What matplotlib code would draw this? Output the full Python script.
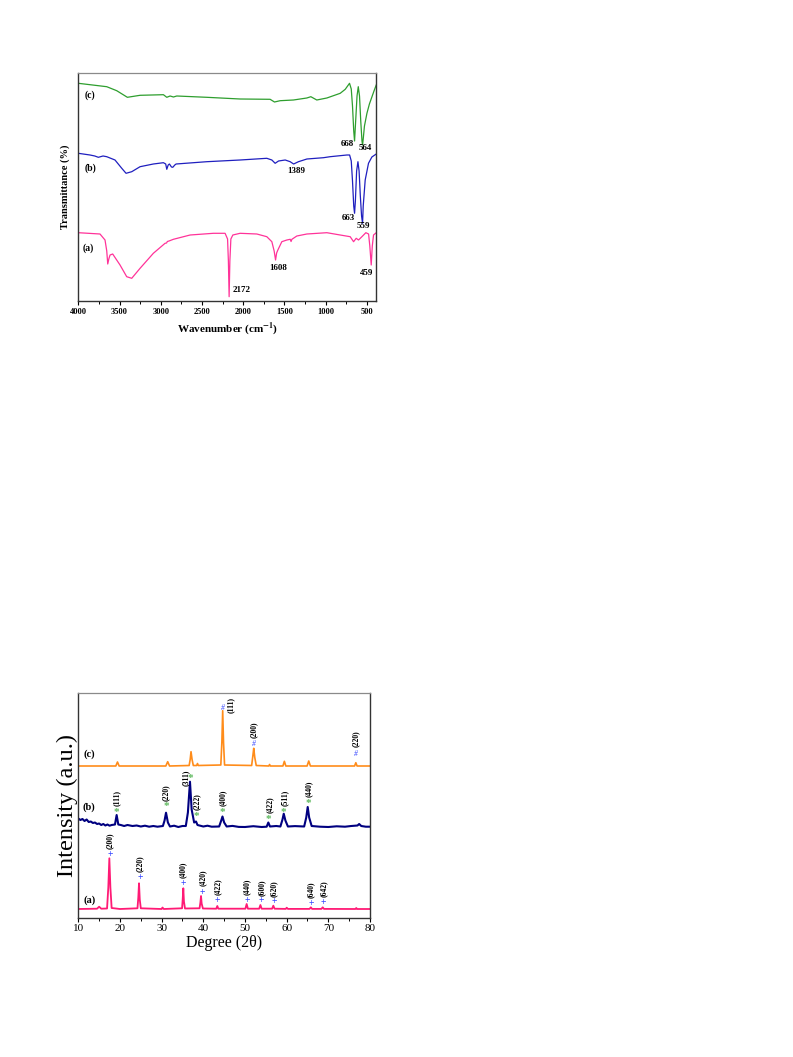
import matplotlib
matplotlib.use("Agg")
import matplotlib.pyplot as plt
from matplotlib.ticker import MultipleLocator

plt.rcParams['font.family'] = ['Liberation Serif', 'DejaVu Serif']
plt.rcParams['mathtext.fontset'] = 'stix'

# ---------------- FTIR data (wavenumber cm-1, transmittance arb. offset) -------------
ftir_c_wn = [4000, 3655, 3534, 3405, 3251, 2968, 2927, 2887, 2846, 2806, 2442, 2038, 1674,
             1621, 1552, 1391, 1229, 1180, 1108, 986, 824, 763, 711, 690, 675, 660, 650,
             640, 620, 605, 590, 575, 560, 553, 545, 530, 500, 470, 440, 410, 387]
ftir_c_t = [217.7, 214.3, 210.3, 203.7, 205.7, 206.3, 203.7, 205, 204, 205, 203.7, 202, 201.7,
            199, 200.3, 201, 203, 204.3, 201, 203, 207.7, 211.7, 217.7, 212, 195, 170, 160,
            175, 205, 214.3, 205, 180, 160, 156, 162, 175, 187.7, 197, 204, 211, 216]

ftir_b_wn = [4000, 3858, 3800, 3757, 3700, 3655, 3555, 3473, 3421, 3352, 3251, 3090, 2968,
             2940, 2927, 2910, 2895, 2870, 2854, 2830, 2814, 2442, 2038, 1714, 1653, 1613,
             1572, 1491, 1431, 1389, 1330, 1228, 1027, 946, 743, 710, 690, 675, 660, 650,
             640, 625, 609, 595, 580, 565, 553, 545, 521, 481, 440, 387]
ftir_b_t = [147.7, 146, 145, 143.7, 145, 144.3, 141, 132.7, 127.7, 129.3, 134.3, 137, 138.3,
            137, 131.7, 136, 137, 134, 133.7, 136, 137, 139.3, 141, 142.7, 141, 137.7,
            140, 141, 139.3, 137, 139.3, 142, 143.3, 144.3, 146, 146, 140, 120, 95, 87.7,
            100, 130, 139.3, 130, 105, 85, 77.7, 95, 121, 137.7, 144, 147]

ftir_a_wn = [4000, 3737, 3676, 3655, 3643, 3630, 3615, 3583, 3494, 3413, 3352, 3251, 3090,
             2948, 2930, 2920, 2900, 2847, 2644, 2362, 2220, 2190, 2180, 2171, 2162, 2150,
             2126, 2038, 1835, 1714, 1653, 1625, 1608, 1595, 1580, 1532, 1471, 1430, 1420,
             1410, 1350, 1228, 986, 824, 703, 662, 630, 602, 561, 513, 480, 465, 448, 435,
             420, 387]
ftir_a_t = [68.3, 67, 61, 50, 37, 42, 46, 47, 36, 24.3, 22.7, 32.7, 47.7,
            57.7, 58, 59.5, 60, 61.7, 66, 67.7, 67.7, 62, 40, 4.3, 40, 62,
            66, 67.7, 67, 64.3, 59.3, 50, 41, 48, 51, 59.3, 61, 61.7, 59.5,
            61.7, 65, 67, 68.3, 66, 64.3, 59.3, 62.7, 61, 64.3, 68.3, 67, 55, 36, 55,
            66, 68.3]

ftir_series_labels = ['(c)', '(b)', '(a)']
ftir_series_label_pos = [(3858, 206), (3858, 132.7), (3879, 53.3)]
ftir_peak_texts = ['668', '564', '1389', '663', '559', '1608', '2172', '459']
ftir_peak_x = [743, 521, 1358, 723, 541, 1580, 2017, 500]
ftir_peak_y = [157, 153.3, 130, 82.7, 75.3, 33.3, 11, 27.7]
ftir_xticks = [4000, 3500, 3000, 2500, 2000, 1500, 1000, 500]

# ---------------- XRD data (2theta deg, intensity arb. offset) -------------
xrd_a_x = [10.0, 14.5, 15.0, 15.5, 16.9, 17.2, 17.45, 17.7, 18.0, 20.0, 24.2, 24.4, 24.57,
           24.75, 25.0, 30.0, 30.2, 30.5, 34.9, 35.05, 35.2, 35.35, 35.6, 39.1, 39.3, 39.45,
           39.6, 39.9, 43.1, 43.36, 43.6, 50.1, 50.4, 50.7, 53.4, 53.7, 54.0, 56.5, 56.8,
           57.1, 59.8, 60.0, 60.3, 65.5, 65.8, 66.1, 68.35, 68.65, 68.95, 76.5, 76.7, 76.9,
           80.0]
xrd_a_y = [8.5, 8.8, 10.8, 8.8, 9.0, 30, 59.2, 30, 9.5, 8.5, 9.2, 20, 34.2,
           18, 9.2, 8.5, 10, 8.5, 9.2, 18, 29.2, 16, 9, 9.2, 15, 21.5,
           14, 9, 8.8, 11.5, 8.8, 8.8, 13.5, 8.8, 8.8, 12.5, 8.8, 8.8, 11.8,
           8.8, 8.6, 9.8, 8.6, 8.6, 10.2, 8.6, 8.6, 10.2, 8.6, 8.5, 9.5, 8.5,
           8.5]

xrd_b_x = [10, 10.5, 11, 11.5, 12, 12.5, 13, 13.5, 14, 14.5, 15, 15.5, 16, 16.5, 17, 17.5,
           18, 18.8, 19.2, 19.6, 20.2, 21, 21.8, 23, 24, 25, 26, 27, 28, 29, 30.3, 30.7, 31.05,
           31.5, 32, 33, 34, 35, 35.8, 36.3, 36.8, 37.2, 37.8, 38.25, 38.6, 40, 41, 42, 43.8,
           44.3, 44.6, 45, 45.6, 47, 48.5, 50, 52, 54, 55.2, 55.6, 56, 57.5, 58.5, 59.0, 59.3,
           59.7, 60.3, 62, 64.2, 64.7, 65.05, 65.4, 66, 68, 70, 72, 74, 75.5, 77.0, 77.4, 77.9,
           79, 80]
xrd_b_y = [99, 97.5, 98.5, 96.5, 98, 95.5, 96, 94.5, 95, 93.5, 94, 92.5, 93.5, 92, 93, 91.8,
           92.5, 93, 102.5, 93, 92.5, 91.5, 92.5, 91.5, 92, 91, 91.8, 90.8, 91.5, 90.8, 91.5, 97,
           104.8, 95, 91, 91.8, 90.5, 91.5, 91.5, 105, 135.8, 108, 95, 96, 92.5, 91, 91.8, 90.8,
           91, 97, 101, 95, 91, 91.6, 90.6, 90.5, 91.3, 90.5, 90.8, 95, 91, 91.5, 91, 98, 103.8,
           97, 91, 91.4, 91, 100, 110.5, 100, 91.5, 90.8, 90.5, 91.2, 90.8, 91.5, 92, 93.5, 91.5,
           90.8, 90.8]

xrd_c_x = [10, 19.0, 19.4, 19.8, 31.0, 31.45, 31.9, 36.6, 36.85, 37.05, 37.3, 37.6, 38.4,
           38.6, 38.8, 44.2, 44.45, 44.65, 44.85, 45.1, 51.6, 51.9, 52.1, 52.35, 52.7, 55.7,
           55.9, 56.1, 59.1, 59.45, 59.8, 64.9, 65.3, 65.7, 76.3, 76.6, 76.9, 80]
xrd_c_y = [151.5, 151.5, 155.5, 151.5, 151.5, 155.8, 151.5, 152, 158, 165.8, 158, 152, 152,
           154, 152, 152.5, 175, 206.8, 175, 152.5, 152, 162, 169.2, 160, 152, 151.5,
           153, 151.5, 151.5, 156.2, 151.5, 151.5, 156.5, 151.5, 151.5, 154.8, 151.5, 151.5]

# hkl labels and their markers
xrd_a_hkl = ['(200)', '(220)', '(400)', '(420)', '(422)', '(440)', '(600)', '(620)', '(640)', '(642)']
xrd_a_mx = [17.6, 24.8, 35.2, 39.85, 43.45, 50.55, 54.0, 57.0, 65.85, 68.8]
xrd_a_my = [63.5, 39.8, 34.2, 25.5, 16.8, 17.5, 16.5, 15.8, 14.2, 15.5]
xrd_a_ly = [76.5, 53.5, 48.0, 39.5, 30.8, 31.0, 30.0, 29.0, 28.0, 29.0]

xrd_b_hkl = ['(111)', '(220)', '(311)', '(222)', '(400)', '(422)', '(511)', '(440)']
xrd_b_mx = [19.2, 31.2, 37.0, 38.4, 44.65, 55.6, 59.3, 65.2]
xrd_b_my = [105.2, 111.5, 138.5, 100.8, 105.2, 98.2, 105.2, 114.2]
xrd_b_lx = [19.2, 31.1, 35.85, 38.4, 44.6, 56.0, 59.5, 65.2]
xrd_b_ly = [119.2, 125.2, 139.8, 115.8, 119.2, 112.5, 119.2, 128.5]

xrd_c_hkl = ['(111)', '(200)', '(220)']
xrd_c_mx = [44.65, 52.15, 76.6]
xrd_c_my = [209.2, 174.0, 163.0]
xrd_c_lx = [46.55, 52.1, 76.5]
xrd_c_ly = [212.5, 188.0, 178.5]

xrd_series_labels = ['(c)', '(b)', '(a)']
xrd_series_label_pos = [(12.65, 163.5), (12.65, 110.5), (12.65, 17.5)]

W, H = 793, 1057
fig = plt.figure(figsize=(W / 100, H / 100), dpi=100)


def style_axes(ax, lw=1.0):
    for s in ['left', 'bottom', 'right']:
        ax.spines[s].set_color('#333333')
        ax.spines[s].set_linewidth(lw)
    ax.spines['top'].set_color('#8a8a8a')
    ax.spines['top'].set_linewidth(0.9)
    ax.tick_params(axis='y', left=False, labelleft=False)
    ax.tick_params(axis='x', which='major', direction='out', length=3, width=0.8, pad=2,
                   top=False)
    ax.tick_params(axis='x', which='minor', direction='out', length=2, width=0.7, top=False)


# ---------------- FTIR panel ----------------
ax1 = fig.add_axes([78.3 / W, 1 - 301 / H, (376 - 78.3) / W, (301 - 73.3) / H])
ax1.plot(ftir_c_wn, ftir_c_t, color='#2e9e2e', lw=0.9)
ax1.plot(ftir_b_wn, ftir_b_t, color='#1f1fbf', lw=0.9)
ax1.plot(ftir_a_wn, ftir_a_t, color='#ff3399', lw=0.9)
ax1.set_xlim(4000, 390)
ax1.set_ylim(0, 227.7)
ax1.set_xticks(ftir_xticks)
ax1.xaxis.set_minor_locator(MultipleLocator(250))
style_axes(ax1)
for lab in ax1.get_xticklabels():
    lab.set_fontweight('bold')
    lab.set_fontsize(6)
ax1.set_xlabel('Wavenumber (cm$\\mathbf{^{-1}}$)', fontsize=8, fontweight='bold', labelpad=3)
ax1.set_ylabel('Transmittance (%)', fontsize=7.5, fontweight='bold', labelpad=6)
for t, (x, y) in zip(ftir_series_labels, ftir_series_label_pos):
    ax1.text(x, y, t, fontsize=7, fontweight='bold', ha='center', va='center')
for t, x, y in zip(ftir_peak_texts, ftir_peak_x, ftir_peak_y):
    ax1.text(x, y, t, fontsize=6.5, fontweight='bold', ha='center', va='center')

# ---------------- XRD panel ----------------
ax2 = fig.add_axes([78.3 / W, 1 - 917.5 / H, (370 - 78.3) / W, (917.5 - 693.3) / H])
ax2.plot(xrd_c_x, xrd_c_y, color='#ff8c1a', lw=1.2)
ax2.plot(xrd_b_x, xrd_b_y, color='#000080', lw=1.5)
ax2.plot(xrd_a_x, xrd_a_y, color='#ff1a75', lw=1.3)
ax2.set_xlim(10, 80)
ax2.set_ylim(0, 224.2)
ax2.xaxis.set_major_locator(MultipleLocator(10))
ax2.xaxis.set_minor_locator(MultipleLocator(5))
style_axes(ax2)
for lab in ax2.get_xticklabels():
    lab.set_fontsize(8)
ax2.set_xlabel('Degree (2θ)', fontsize=11.5, labelpad=1)
ax2.set_ylabel('Intensity (a.u.)', fontsize=17.5, labelpad=0)

for t, (x, y) in zip(xrd_series_labels, xrd_series_label_pos):
    ax2.text(x, y, t, fontsize=7.5, fontweight='bold', ha='center', va='center')

for t, mx, my, ly in zip(xrd_a_hkl, xrd_a_mx, xrd_a_my, xrd_a_ly):
    ax2.text(mx, my, '+', color='#3344ff', fontsize=7, fontweight='bold', ha='center', va='center')
    ax2.text(mx, ly, t, fontsize=5.5, fontweight='bold', rotation=90, ha='center', va='center')
for t, mx, my, lx, ly in zip(xrd_b_hkl, xrd_b_mx, xrd_b_my, xrd_b_lx, xrd_b_ly):
    ax2.text(mx, my, '*', color='#5cb85c', fontsize=8, fontweight='bold', ha='center', va='center')
    ax2.text(lx, ly, t, fontsize=5.5, fontweight='bold', rotation=90, ha='center', va='center')
for t, mx, my, lx, ly in zip(xrd_c_hkl, xrd_c_mx, xrd_c_my, xrd_c_lx, xrd_c_ly):
    ax2.text(mx, my, '#', color='#3344ff', fontsize=5.5, style='italic', ha='center', va='center')
    ax2.text(lx, ly, t, fontsize=5.5, fontweight='bold', rotation=90, ha='center', va='center')

fig.savefig('out.png', dpi=100)
